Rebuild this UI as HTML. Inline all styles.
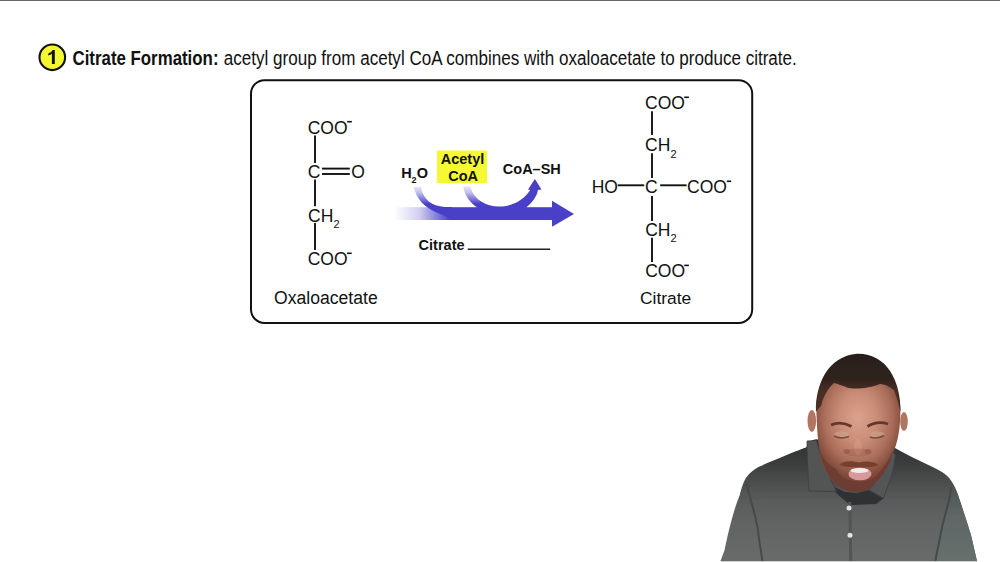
<!DOCTYPE html>
<html><head><meta charset="utf-8">
<style>
html,body{margin:0;padding:0;background:#fff;}
body{width:1000px;height:562px;overflow:hidden;position:relative;font-family:"Liberation Sans",sans-serif;}
svg{position:absolute;left:0;top:0;}
</style></head>
<body>
<svg width="1000" height="562" viewBox="0 0 1000 562" font-family="Liberation Sans, sans-serif">
<defs>
<linearGradient id="gShaft" gradientUnits="userSpaceOnUse" x1="394" y1="0" x2="450" y2="0">
<stop offset="0" stop-color="#4a40c8" stop-opacity="0"/>
<stop offset="0.45" stop-color="#4a40c8" stop-opacity="0.25"/>
<stop offset="1" stop-color="#4a40c8" stop-opacity="1"/>
</linearGradient>
<linearGradient id="gCurve" gradientUnits="userSpaceOnUse" x1="0" y1="185" x2="0" y2="203">
<stop offset="0" stop-color="#4a40c8" stop-opacity="0.05"/>
<stop offset="1" stop-color="#4a40c8" stop-opacity="1"/>
</linearGradient>
<linearGradient id="gFadeMask" gradientUnits="userSpaceOnUse" x1="0" y1="185" x2="0" y2="204">
<stop offset="0" stop-color="#151515"/>
<stop offset="0.4" stop-color="#555"/>
<stop offset="1" stop-color="#fff"/>
</linearGradient>
<mask id="mFade" maskUnits="userSpaceOnUse" x="0" y="0" width="1000" height="562">
<rect x="0" y="0" width="1000" height="562" fill="#fff"/>
<rect x="405" y="180" width="75" height="24.5" fill="url(#gFadeMask)"/>
</mask>
<radialGradient id="gSkin" gradientUnits="userSpaceOnUse" cx="858" cy="418" r="46" gradientTransform="translate(858 418) scale(1 1.3) translate(-858 -418)">
<stop offset="0" stop-color="#dca28c"/>
<stop offset="0.4" stop-color="#ca8e78"/>
<stop offset="0.75" stop-color="#a96c59"/>
<stop offset="1" stop-color="#7e4a3a"/>
</radialGradient>
<filter id="fSoft" x="0" y="0" width="1" height="1" filterUnits="objectBoundingBox"><feGaussianBlur stdDeviation="0.7"/></filter>
<linearGradient id="gShirt" gradientUnits="userSpaceOnUse" x1="0" y1="440" x2="0" y2="561">
<stop offset="0" stop-color="#2f3131"/>
<stop offset="0.18" stop-color="#3a3c3c"/>
<stop offset="0.33" stop-color="#4a4c4c"/>
<stop offset="0.5" stop-color="#595b5b"/>
<stop offset="0.7" stop-color="#626464"/>
<stop offset="1" stop-color="#686a6a"/>
</linearGradient>
<linearGradient id="gSleeve" gradientUnits="userSpaceOnUse" x1="0" y1="485" x2="0" y2="561">
<stop offset="0" stop-color="#4d5352"/>
<stop offset="0.4" stop-color="#5e6665"/>
<stop offset="1" stop-color="#66706d"/>
</linearGradient>
<linearGradient id="gHair" gradientUnits="userSpaceOnUse" x1="0" y1="354" x2="0" y2="392">
<stop offset="0" stop-color="#2a1f1a"/>
<stop offset="0.6" stop-color="#2e211b"/>
<stop offset="1" stop-color="#4a2f25"/>
</linearGradient>
</defs>
<!-- top bar -->
<rect x="0" y="0" width="1000" height="1" fill="#666"/>
<!-- header -->
<circle cx="52.3" cy="57.3" r="12.8" fill="#f4f830" stroke="#111" stroke-width="2.1"/>
<path d="M51.9 63.9 L54.8 63.9 L54.8 50 L52.6 50 C51.8 51.8 50.2 52.8 48.3 53.4 L48.3 55.6 C49.8 55.2 51 54.5 51.9 53.7 Z" fill="#111"/>
<text x="72.5" y="64.5" font-size="19.5" font-weight="bold" fill="#111" textLength="146" lengthAdjust="spacingAndGlyphs">Citrate Formation:</text>
<text x="223.8" y="64.5" font-size="19.5" fill="#111" textLength="573" lengthAdjust="spacingAndGlyphs">acetyl group from acetyl CoA combines with oxaloacetate to produce citrate.</text>
<!-- box -->
<rect x="251" y="80.2" width="501.2" height="242.7" rx="13.5" ry="13.5" fill="none" stroke="#111" stroke-width="2"/>

<g fill="#111" font-size="17.5">
<!-- oxaloacetate -->
<text x="307.7" y="133.5">COO</text>
<text x="307.7" y="177.6">C</text>
<text x="351.3" y="177.6">O</text>
<text x="308.1" y="221.6">CH</text>
<text x="333.4" y="227.8" font-size="11">2</text>
<text x="307.7" y="264.9">COO</text>
<text x="274" y="303.8" font-size="17.6">Oxaloacetate</text>
<!-- citrate -->
<text x="645.1" y="109.2">COO</text>
<text x="645.1" y="151.2">CH</text>
<text x="670.5" y="157.6" font-size="11">2</text>
<text x="591.7" y="193.3">HO</text>
<text x="645" y="193.3">C</text>
<text x="687.1" y="193.3">COO</text>
<text x="645.2" y="235.5">CH</text>
<text x="670.5" y="241.5" font-size="11">2</text>
<text x="645.2" y="277.1">COO</text>
<text x="640" y="303.8" font-size="17.4">Citrate</text>
</g>
<g stroke="#111" stroke-width="1.9" fill="none">
<line x1="315" y1="135.6" x2="315" y2="163"/>
<line x1="322" y1="168.6" x2="349.8" y2="168.6"/>
<line x1="322" y1="174" x2="349.8" y2="174"/>
<line x1="315" y1="179.4" x2="315" y2="206.2"/>
<line x1="315" y1="223" x2="315" y2="250"/>

<line x1="652" y1="111.3" x2="652" y2="135"/>
<line x1="652" y1="153.3" x2="652" y2="178"/>
<line x1="617.8" y1="185.3" x2="644.2" y2="185.3"/>
<line x1="660.2" y1="185.3" x2="686.6" y2="185.3"/>
<line x1="652" y1="196" x2="652" y2="221"/>
<line x1="652" y1="237.7" x2="652" y2="262"/>
</g>

<g stroke="#111" stroke-width="1.6">
<line x1="347.2" y1="121.7" x2="351.9" y2="121.7"/>
<line x1="347" y1="253.3" x2="351.7" y2="253.3"/>
<line x1="684.2" y1="97.3" x2="688.9" y2="97.3"/>
<line x1="726.8" y1="181.3" x2="731.2" y2="181.3"/>
<line x1="684.2" y1="265.4" x2="688.9" y2="265.4"/>
</g>
<!-- reaction arrow -->
<rect x="394" y="207.2" width="160" height="12.8" fill="url(#gShaft)"/>
<path d="M552 200.7 L574 213.9 L552 226.8 Z" fill="#4a40c8"/>
<path d="M413.8 187 C416 198 424 208 440 214 L452 219 L452 207 L445 207 C431 206 423 199 421 187 Z" fill="#4a40c8" mask="url(#mFade)"/>
<path d="M463.2 186.7 C464.5 195 470 203 478 208 L478 212 L524 212 L524 209 C531 204 537 197 537.9 189.9 L541.5 189.4 L534.9 179 L528 189.4 L530.2 189.9 C524 200 512 206.5 499 206.5 C486 206.5 474 200 469.9 186.2 Z" fill="#4a40c8" mask="url(#mFade)"/>

<!-- labels -->
<rect x="437" y="150.5" width="50" height="32.5" fill="#f4f932"/>
<g font-weight="bold" fill="#111" font-size="14.5">
<text x="462.5" y="164.2" text-anchor="middle">Acetyl</text>
<text x="463.2" y="180.5" text-anchor="middle">CoA</text>
<text x="401.2" y="177.5">H</text>
<text x="411.6" y="182.5" font-size="9">2</text>
<text x="416.8" y="177.5">O</text>
<text x="502.8" y="174.2">CoA–SH</text>
<text x="418.6" y="249.5">Citrate</text>
</g>
<line x1="467.7" y1="249.2" x2="550.2" y2="249.2" stroke="#222" stroke-width="1.6"/>

<!-- person -->
<g id="person" filter="url(#fSoft)">
<path d="M720.5 561 L724.6 550 C729 528 735 506 739.8 495 C741.5 488 744 480 747 476.5 C750 472.5 754 469.5 758.5 467 C768 462.5 778 458.5 788.4 454.2 C795 451.5 802 449 806 447.5 L809 443.5 L812 440.3 L816 439.3 L895 448 C910 457 930 465 942 472 C950 477 955 485 958 495 C963 510 968 525 971 535 L977 561 Z" fill="url(#gShirt)"/>
<path d="M832 486 L845 492 L857 493 L869 490 L884 498 L876 504 L850 505 L836 493 Z" fill="#2f3030"/>
<path d="M807 441 L816.5 440.5 C819 452 825 468 833 484 L836.5 491.5 L809 491 C808 475 807 458 807 441 Z" fill="#525454" stroke="#3e4040" stroke-width="0.8"/>
<path d="M892.3 452 L895.5 455 C894 468 891 479 888 485 L883.6 498.5 L868.7 489.8 C873 486 877 481 880 475 C884 468 888 460 892.3 452 Z" fill="#525656" stroke="#3e4040" stroke-width="0.8"/>
<path d="M951.5 487 C954 485 956 490 958 495 C963 510 968 525 971 535 L977 561 L935.5 561 C936 556 937 552 938.4 546 C939.5 540 941 532 942.8 524 C944 520 946 512 948.6 502 C949 500 950 496 951.5 487 Z" fill="url(#gSleeve)"/>
<path d="M746 483 C751 500 755 515 757.5 527 C759 540 761 552 762.5 561" stroke="#474a4a" stroke-width="2" fill="none"/>
<path d="M951.5 487 C950 496 949 500 948.6 502 C946 512 944 520 942.8 524 C941 532 939.5 540 938.4 546 C937 552 936 556 935.5 561" stroke="#454949" stroke-width="2" fill="none"/>
<path d="M848.3 502 L851.3 502 L852.3 561 L849.3 561 Z" fill="#525452"/>
<circle cx="849" cy="508" r="2.5" fill="#e4e4e4"/>
<circle cx="850" cy="535.2" r="2.5" fill="#e4e4e4"/>
<ellipse cx="811.8" cy="421" rx="4.3" ry="11" fill="#b07662"/>
<ellipse cx="904" cy="421.5" rx="3.8" ry="9.5" fill="#b07662"/>
<path d="M816.4 408 C816 400 818 392 822 386 L835 380 C845 386 860 389 880 383 L894 386 C898 394 900.4 400 900.4 410 C900.4 428 898 442 893 453 C888 466 882 478 872 486 C867 490 862 492 857 492 C849 492 842 489 836 484 C829 478 824 470 821 460 C818 445 816.5 425 816.4 408 Z" fill="url(#gSkin)"/>
<path d="M816 412 C815 385 828 356 857 353.8 C886 353 901 380 900.6 412 C899 406 897 398 894 390 C889 386 884 384 880 384 C870 388 855 390 847 387.5 C842 385.5 838 384 834 383 C828 388 823 397 821 406 C819 408 817 410 816 412 Z" fill="url(#gHair)"/>
<path d="M819 446 C821 457 827 465 836 469 C840 477 849 481.5 859 481.5 C869 481.5 877 477 881 470 C886 465 890 458 894 447 C891 462 884 476 874 484.5 C868 490 863 492 857 492 C849 492 842 489 836 484 C828 477 822 465 819 446 Z" fill="#6e3c30"/>
<path d="M839 464.5 C846 460 853 461 859 462.5 C866 461 873 461 878.5 465 C872 467.5 866 467.5 859 467 C852 467.5 845 467.5 839 464.5 Z" fill="#74402f"/>
<ellipse cx="860" cy="474" rx="11.5" ry="6.3" fill="#d7999b"/>
<ellipse cx="859.5" cy="470.6" rx="9" ry="2.5" fill="#f2ebea"/>
<path d="M831 425 Q841 420.5 851.5 426.5" stroke="#63392c" stroke-width="2.8" fill="none"/>
<path d="M867.5 426.5 Q877 420.5 888 424" stroke="#63392c" stroke-width="2.8" fill="none"/>
<ellipse cx="841.5" cy="434.5" rx="7.5" ry="3.2" fill="#caa08a" opacity="0.7"/>
<ellipse cx="877" cy="434.5" rx="7.5" ry="3.2" fill="#caa08a" opacity="0.7"/>
<path d="M834 436 Q841 439.5 849 436.5" stroke="#7a4b3b" stroke-width="1.5" fill="none"/>
<path d="M870 437 Q877 439.5 884 435.5" stroke="#7a4b3b" stroke-width="1.5" fill="none"/>
<ellipse cx="858" cy="447" rx="4" ry="8" fill="#e6ae98" opacity="0.3"/>
<ellipse cx="858" cy="452.5" rx="13" ry="4" fill="#9a5d4a" opacity="0.35"/>
<ellipse cx="846.5" cy="451.5" rx="3.2" ry="2.4" fill="#8a4f3e" opacity="0.5"/>
<ellipse cx="868" cy="451.5" rx="3.2" ry="2.4" fill="#8a4f3e" opacity="0.5"/>
</g>
<!-- bottom strip -->
<rect x="721" y="561" width="256" height="1" fill="#cfd2d1"/>
</svg>
</body></html>
